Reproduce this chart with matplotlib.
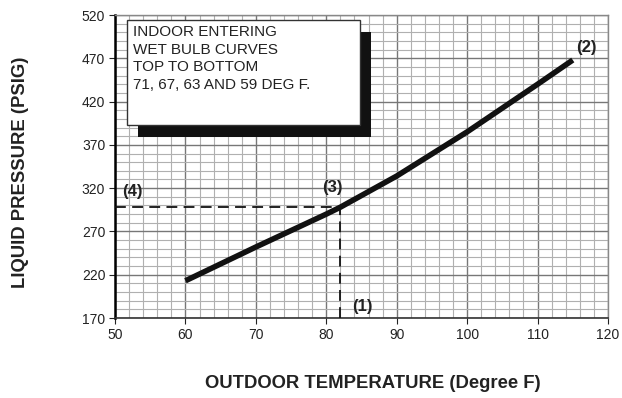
import matplotlib
matplotlib.use("Agg")
import matplotlib.pyplot as plt
from matplotlib.patches import Rectangle
from matplotlib.ticker import MultipleLocator

plt.rcParams['font.family'] = ['Liberation Sans', 'DejaVu Sans']

# curve
temps = [60, 70, 80, 82, 90, 100, 110, 115]
pressures = [213, 252, 290, 298, 334, 385, 440, 468]

x_ticks = [50, 60, 70, 80, 90, 100, 110, 120]
y_ticks = [170, 220, 270, 320, 370, 420, 470, 520]

# example reading point
read_temp = 82
read_press = 298

box_lines = ["INDOOR ENTERING", "WET BULB CURVES", "TOP TO BOTTOM",
             "71, 67, 63 AND 59 DEG F."]

fig = plt.figure(figsize=(6.22, 3.98), dpi=100)
ax = fig.add_axes([115 / 622, 80 / 398, 493 / 622, 303 / 398])

ax.set_xlim(50, 120)
ax.set_ylim(170, 520)
ax.set_xticks(x_ticks)
ax.set_yticks(y_ticks)
ax.xaxis.set_minor_locator(MultipleLocator(2))
ax.yaxis.set_minor_locator(MultipleLocator(10))
ax.grid(which='major', color='#777777', lw=1.0)
ax.grid(which='minor', color='#b0b0b0', lw=0.8)
ax.set_axisbelow(True)
ax.tick_params(axis='x', which='major', length=4, labelsize=10, pad=3,
               colors='#222222')
ax.tick_params(axis='y', which='major', length=4, labelsize=10, pad=3,
               colors='#222222')
ax.tick_params(which='minor', length=0)

for s in ['top', 'right']:
    ax.spines[s].set_color('#888888')
    ax.spines[s].set_linewidth(1.0)
ax.spines['left'].set_color('black')
ax.spines['left'].set_linewidth(1.8)
ax.spines['bottom'].set_color('#333333')
ax.spines['bottom'].set_linewidth(1.2)

# main curve
ax.plot(temps, pressures, color='#111111', lw=4, solid_capstyle='butt', zorder=5)

# dashed reading lines
ax.plot([50, read_temp], [read_press, read_press], color='#111111', lw=1.3,
        dashes=(6, 3.5), zorder=4)
ax.plot([read_temp, read_temp], [170, read_press], color='#111111', lw=1.3,
        dashes=(6, 3.5), zorder=4)

# text box with shadow
ax.add_patch(Rectangle((53.3, 379), 33.1, 121, facecolor='#111111',
                       edgecolor='none', zorder=6))
ax.add_patch(Rectangle((51.7, 393), 33.1, 121, facecolor='white',
                       edgecolor='#333333', lw=1.0, zorder=7))
for i, line in enumerate(box_lines):
    ax.text(52.5, 500 - i * 20.3, line, fontsize=11, color='#222222',
            va='center', ha='left', zorder=8)

# point labels
lbl = dict(fontsize=12, fontweight='bold', color='#222222', ha='center',
           va='center', zorder=8)
ax.text(117.0, 483, '(2)', **lbl)
ax.text(80.8, 321, '(3)', **lbl)
ax.text(52.4, 316, '(4)', **lbl)
ax.text(85.1, 183, '(1)', **lbl)

fig.text(21 / 622, 1 - 172 / 398, 'LIQUID PRESSURE (PSIG)', rotation=90,
         fontsize=13.3, fontweight='bold', color='#222222', ha='center', va='center')
fig.text(373 / 622, 1 - 383 / 398, 'OUTDOOR TEMPERATURE (Degree F)',
         fontsize=13.3, fontweight='bold', color='#222222', ha='center', va='center')

fig.savefig('out.png', dpi=100)
